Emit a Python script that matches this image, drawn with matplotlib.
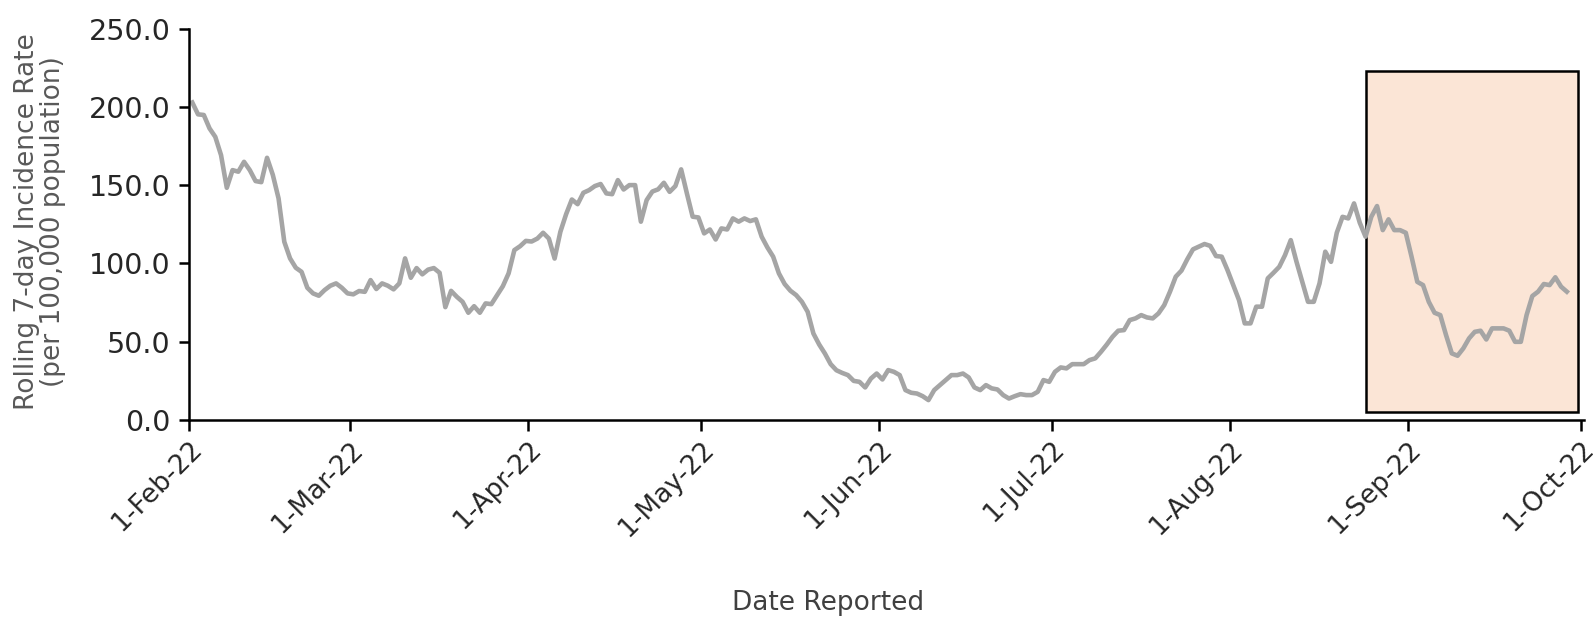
import matplotlib
matplotlib.use("Agg")
import matplotlib.pyplot as plt
import matplotlib.patches as mpatches
import matplotlib.dates as mdates
import pandas as pd

# Rolling 7-day incidence rate per 100,000, daily from 1-Feb-22
rates = [
    203.0, 195.4, 195.0, 186.4, 181.0, 169.3, 148.4, 159.7, 158.7, 165.0,
    159.7, 152.7, 152.0, 167.6, 156.7, 141.6, 113.8, 103.2, 97.2, 94.6,
    84.4, 80.8, 79.3, 82.9, 85.7, 87.2, 84.4, 80.8, 80.2, 82.3,
    81.8, 89.3, 83.6, 87.2, 85.7, 83.4, 87.2, 103.2, 90.8, 97.0,
    93.0, 96.0, 97.0, 94.0, 72.0, 82.4, 78.6, 75.4, 68.4, 72.6,
    68.4, 74.4, 73.9, 79.7, 85.4, 93.6, 108.5, 111.0, 114.4, 114.0,
    115.9, 119.6, 115.9, 103.1, 120.2, 131.5, 140.9, 137.9, 145.2, 146.9,
    149.5, 150.8, 144.8, 144.3, 153.3, 147.3, 150.1, 150.1, 126.7, 140.5,
    146.0, 147.4, 151.6, 145.8, 149.5, 160.2, 144.8, 129.9, 129.4, 119.2,
    121.7, 115.3, 122.4, 121.7, 128.8, 126.7, 128.8, 127.1, 128.2, 117.1,
    110.2, 104.3, 93.6, 86.8, 82.5, 79.7, 75.4, 69.0, 55.1, 48.1,
    42.3, 35.5, 31.6, 29.9, 28.5, 24.8, 24.2, 20.6, 26.3, 29.5,
    25.7, 31.7, 30.6, 28.5, 18.9, 17.2, 16.7, 15.0, 12.5, 18.9,
    22.1, 25.3, 28.5, 28.5, 29.5, 27.0, 20.6, 18.9, 22.1, 20.0,
    19.3, 15.7, 13.5, 15.0, 16.3, 15.7, 15.7, 17.8, 25.3, 24.2,
    30.6, 33.4, 32.8, 35.5, 35.5, 35.5, 38.1, 39.2, 43.4, 48.0,
    53.0, 56.9, 57.3, 63.7, 64.8, 66.9, 65.4, 64.8, 68.0, 73.3,
    81.9, 91.5, 95.4, 102.6, 109.0, 110.7, 112.4, 111.2, 104.7, 104.3,
    95.7, 86.1, 76.5, 61.6, 61.6, 72.3, 72.3, 90.4, 94.0, 97.8,
    105.3, 114.9, 101.0, 88.2, 75.4, 75.4, 87.2, 107.5, 101.0, 119.6,
    129.8, 128.8, 138.4, 126.0, 117.1, 129.8, 136.7, 121.3, 128.2, 121.3,
    121.3, 119.6, 104.3, 88.2, 86.1, 75.4, 68.4, 66.9, 54.1, 42.4,
    40.9, 45.6, 52.0, 56.2, 56.9, 51.3, 58.4, 58.4, 58.4, 56.9,
    49.8, 49.8, 66.9, 79.1, 81.9, 86.8, 86.1, 91.1, 85.1, 81.9,
]
start_date = "2022-02-01"

tick_dates = ["2022-02-01", "2022-03-01", "2022-04-01", "2022-05-01", "2022-06-01",
              "2022-07-01", "2022-08-01", "2022-09-01", "2022-10-01"]
tick_labels = ["1-Feb-22", "1-Mar-22", "1-Apr-22", "1-May-22", "1-Jun-22",
               "1-Jul-22", "1-Aug-22", "1-Sep-22", "1-Oct-22"]
y_ticks = [0, 50, 100, 150, 200, 250]

# highlighted period (box)
box_start, box_end = "2022-08-24 14:00", "2022-09-30 12:00"
box_low, box_high = 5, 223

# each point sits in the middle of its day
dates = pd.date_range(start_date, periods=len(rates), freq="D") + pd.Timedelta(hours=14)

fig = plt.figure(figsize=(15.93, 6.18), dpi=100)
ax = fig.add_axes([0.1186, 0.321, 0.8758, 0.632])

x0 = mdates.date2num(pd.Timestamp(box_start))
x1 = mdates.date2num(pd.Timestamp(box_end))
ax.add_patch(mpatches.Rectangle((x0, box_low), x1 - x0, box_high - box_low,
                                facecolor="#FBE5D6", edgecolor="black", linewidth=1.8, zorder=1))

ax.plot(dates, rates, color="#A5A5A5", linewidth=3.3, zorder=2, solid_joinstyle="round")

ax.set_xlim(pd.Timestamp("2022-02-01"), pd.Timestamp("2022-10-01 14:00"))
ax.set_ylim(0, 250)

ax.set_xticks(pd.to_datetime(tick_dates))
ax.set_xticklabels(tick_labels, rotation=45, ha="right", rotation_mode="anchor",
                   fontsize=19, color="#262626")
ax.set_yticks(y_ticks)
ax.set_yticklabels([f"{v:.1f}" for v in y_ticks], fontsize=20.5, color="#262626")

for s in ["top", "right"]:
    ax.spines[s].set_visible(False)
for s in ["left", "bottom"]:
    ax.spines[s].set_linewidth(1.8)
    ax.spines[s].set_color("black")
ax.tick_params(axis="y", direction="out", length=7, width=1.8, pad=6)
ax.tick_params(axis="x", direction="out", length=8, width=1.8, pad=4)

fig.text(0.025, 1 - 222 / 618, "Rolling 7-day Incidence Rate\n(per 100,000 population)",
         rotation=90, ha="center", va="center", multialignment="center",
         fontsize=19, color="#595959", linespacing=1.0)
fig.text(828 / 1593, 1 - 603 / 618, "Date Reported", ha="center", va="center",
         fontsize=19, color="#404040")

fig.savefig("out.png", dpi=100)
